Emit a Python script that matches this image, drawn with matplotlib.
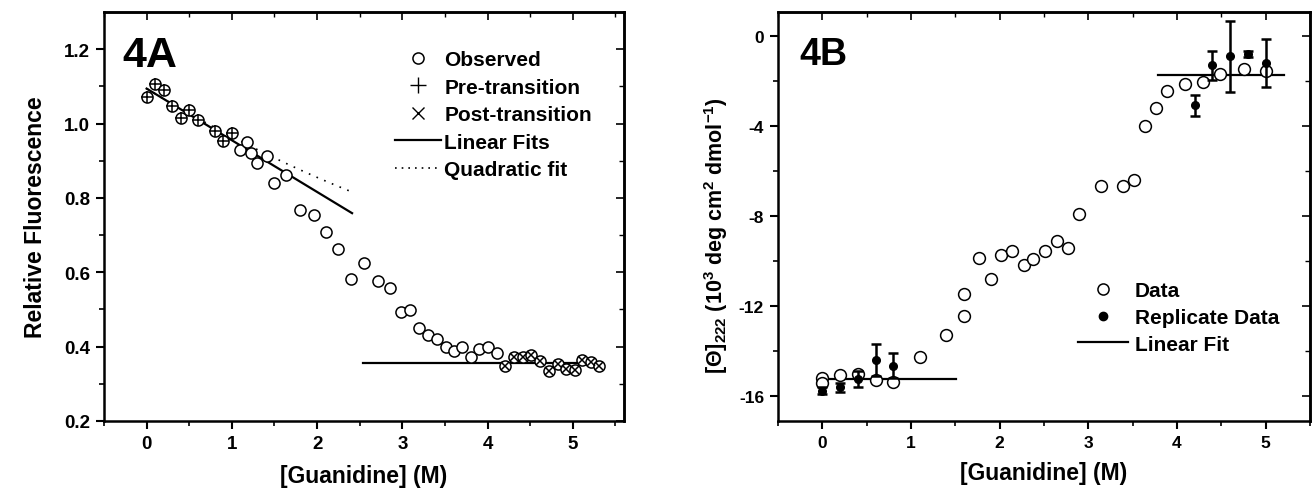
import matplotlib
matplotlib.use("Agg")
import matplotlib.pyplot as plt
import numpy as np
from matplotlib.lines import Line2D

plt.rcParams['font.family'] = ['Liberation Sans', 'DejaVu Sans']
plt.rcParams['font.weight'] = 'bold'
plt.rcParams['mathtext.fontset'] = 'custom'
plt.rcParams['mathtext.rm'] = 'Liberation Sans:bold'
plt.rcParams['mathtext.bf'] = 'Liberation Sans:bold'
plt.rcParams['mathtext.it'] = 'Liberation Sans:bold'
plt.rcParams['mathtext.default'] = 'regular'

# ---------------- Panel A data ----------------
obs_x = [0.0, 0.1, 0.2, 0.3, 0.4, 0.5, 0.6, 0.8, 0.9, 1.0,
         1.1, 1.18, 1.23, 1.3, 1.41, 1.49, 1.64, 1.8, 1.96, 2.1,
         2.24, 2.40, 2.55, 2.71, 2.86, 2.98, 3.09, 3.2, 3.3, 3.41,
         3.51, 3.6, 3.7, 3.81, 3.9, 4.0, 4.11,
         4.2, 4.31, 4.41, 4.51, 4.61, 4.72, 4.82, 4.92, 5.02, 5.11, 5.21, 5.31]
obs_y = [1.072, 1.106, 1.091, 1.048, 1.016, 1.036, 1.009, 0.980, 0.954, 0.974,
         0.928, 0.951, 0.920, 0.894, 0.913, 0.839, 0.862, 0.768, 0.755, 0.707,
         0.663, 0.582, 0.625, 0.577, 0.559, 0.492, 0.499, 0.449, 0.431, 0.420,
         0.398, 0.389, 0.398, 0.371, 0.393, 0.398, 0.383,
         0.347, 0.371, 0.371, 0.378, 0.362, 0.335, 0.353, 0.341, 0.338, 0.365, 0.359, 0.348]
n_pre = 10     # first points marked as pre-transition
n_post = 12    # last points marked as post-transition

pre_fit_x = [0.0, 2.41]
pre_fit_y = [1.094, 0.759]
post_fit_x = [2.54, 5.33]
post_fit_y = [0.356, 0.356]
quad_coef = [0.0098, -0.139, 1.094]   # quadratic fit coefficients (a, b, c)
quad_range = [0.0, 2.41]

# ---------------- Panel B data ----------------
data_x = [0.0, 0.0, 0.2, 0.4, 0.6, 0.8, 1.1, 1.4, 1.6, 1.6,
          1.77, 1.9, 2.02, 2.14, 2.27, 2.38, 2.51, 2.65, 2.77, 2.89,
          3.14, 3.39, 3.52, 3.64, 3.76, 3.89, 4.09, 4.29, 4.49, 4.75, 5.0]
data_y = [-15.2, -15.4, -15.08, -15.0, -15.26, -15.38, -14.27, -13.28, -12.45, -11.45,
          -9.87, -10.79, -9.72, -9.56, -10.16, -9.93, -9.56, -9.13, -9.42, -7.92,
          -6.67, -6.67, -6.4, -4.0, -3.21, -2.44, -2.15, -2.07, -1.70, -1.48, -1.55]
rep_x = [0.0, 0.2, 0.4, 0.6, 0.8, 4.2, 4.4, 4.6, 4.8, 5.0]
rep_y = [-15.75, -15.6, -15.23, -14.39, -14.64, -3.09, -1.32, -0.91, -0.81, -1.21]
rep_err = [0.17, 0.2, 0.37, 0.72, 0.55, 0.46, 0.63, 1.58, 0.12, 1.07]
lin_lo_x = [0.0, 1.51]
lin_lo_y = [-15.23, -15.23]
lin_hi_x = [3.79, 5.21]
lin_hi_y = [-1.75, -1.75]

W, H = 1313, 489
fig = plt.figure(figsize=(W / 100, H / 100), dpi=100)

def px_axes(l, r, t, b):
    return fig.add_axes([l / W, 1 - b / H, (r - l) / W, (b - t) / H])

axA = px_axes(104, 624, 13, 422)
axB = px_axes(778, 1310, 13, 422)

def style(ax, xmaj, xmin, ymaj, ymin, xlim, ylim, yfmt, tfs):
    ax.set_xlim(*xlim)
    ax.set_ylim(*ylim)
    ax.set_xticks(xmaj)
    ax.set_xticks(xmin, minor=True)
    ax.set_yticks(ymaj)
    ax.set_yticks(ymin, minor=True)
    ax.set_yticklabels([yfmt(v) for v in ymaj])
    for s in ax.spines.values():
        s.set_linewidth(1.8)
    ax.tick_params(which='major', direction='out', length=6, width=1.5,
                   labelsize=tfs, pad=4)
    ax.tick_params(which='minor', direction='out', length=3.5, width=1.2)
    for lab in ax.get_xticklabels() + ax.get_yticklabels():
        lab.set_fontweight('bold')
    # inward mirrored ticks on top / right
    top = ax.secondary_xaxis('top')
    top.set_xticks(xmaj)
    top.set_xticks(xmin, minor=True)
    top.tick_params(which='major', direction='in', length=6, width=1.2, labeltop=False)
    top.tick_params(which='minor', direction='in', length=3.5, width=1.0)
    right = ax.secondary_yaxis('right')
    right.set_yticks(ymaj)
    right.set_yticks(ymin, minor=True)
    right.tick_params(which='major', direction='in', length=6, width=1.2, labelright=False)
    right.tick_params(which='minor', direction='in', length=3.5, width=1.0)
    for s in list(top.spines.values()) + list(right.spines.values()):
        s.set_linewidth(1.8)

# ---------------- Panel A ----------------
axA.plot(obs_x, obs_y, linestyle='none', marker='o', ms=8, mfc='white',
         mec='black', mew=1.1, zorder=3)
axA.plot(obs_x[:n_pre], obs_y[:n_pre], linestyle='none', marker='+', ms=8,
         mec='black', mew=1.1, zorder=4)
axA.plot(obs_x[-n_post:], obs_y[-n_post:], linestyle='none', marker='x', ms=5.5,
         mec='black', mew=1.1, zorder=4)
axA.plot(pre_fit_x, pre_fit_y, color='black', lw=1.6, zorder=2)
axA.plot(post_fit_x, post_fit_y, color='black', lw=1.6, zorder=2)
qx = np.linspace(quad_range[0], quad_range[1], 100)
axA.plot(qx, np.polyval(quad_coef, qx), color='black', lw=1.2,
         linestyle=(0, (1, 4)), zorder=2)

style(axA, [0, 1, 2, 3, 4, 5], [-0.5, 0.5, 1.5, 2.5, 3.5, 4.5, 5.5],
      [0.2, 0.4, 0.6, 0.8, 1.0, 1.2], [0.3, 0.5, 0.7, 0.9, 1.1],
      (-0.5, 5.6), (0.2, 1.3), lambda v: f"{v:.1f}", 13.5)
axA.set_xlabel('[Guanidine] (M)', fontsize=16.5, fontweight='bold', labelpad=9)
axA.set_ylabel('Relative Fluorescence', fontsize=16.5, fontweight='bold', labelpad=12)
axA.text(0.035, 0.868, '4A', transform=axA.transAxes, fontsize=31,
         fontweight='bold', va='baseline', ha='left')

handlesA = [
    Line2D([], [], linestyle='none', marker='o', ms=8, mfc='white', mec='black', mew=1.1),
    Line2D([], [], linestyle='none', marker='+', ms=11, mec='black', mew=1.0),
    Line2D([], [], linestyle='none', marker='x', ms=8, mec='black', mew=1.0),
    Line2D([], [], color='black', lw=1.6),
    Line2D([], [], color='black', lw=1.2, linestyle=(0, (1, 3))),
]
labelsA = ['Observed', 'Pre-transition', 'Post-transition', 'Linear Fits', 'Quadratic fit']
axA.legend(handlesA, labelsA, loc='upper left', bbox_to_anchor=(0.56, 0.907),
           frameon=False, handlelength=2.2, handletextpad=0.15, labelspacing=0.41,
           borderaxespad=0, borderpad=0,
           prop={'weight': 'bold', 'size': 15, 'family': 'Liberation Sans'})

# ---------------- Panel B ----------------
axB.plot(data_x, data_y, linestyle='none', marker='o', ms=8.5, mfc='white',
         mec='black', mew=1.1, zorder=3)
axB.errorbar(rep_x, rep_y, yerr=rep_err, fmt='o', ms=5.5, mfc='black', mec='black',
             ecolor='black', elinewidth=1.8, capsize=3.5, capthick=1.8, zorder=4)
axB.plot(lin_lo_x, lin_lo_y, color='black', lw=1.6, zorder=2)
axB.plot(lin_hi_x, lin_hi_y, color='black', lw=1.6, zorder=2)

style(axB, [0, 1, 2, 3, 4, 5], [-0.5, 0.5, 1.5, 2.5, 3.5, 4.5, 5.5],
      [-16, -12, -8, -4, 0], [-14, -10, -6, -2],
      (-0.5, 5.5), (-17.1, 1.05), lambda v: f"{v:d}", 12.5)
axB.set_xlabel('[Guanidine] (M)', fontsize=16.5, fontweight='bold', labelpad=8)
axB.set_ylabel(r'[$\Theta$]$_{222}$ (10$^{3}$ deg cm$^{2}$ dmol$^{-1}$)',
               fontsize=15.5, fontweight='bold')
axB.yaxis.set_label_coords(-0.09, 0.455)
axB.text(0.041, 0.873, '4B', transform=axB.transAxes, fontsize=27,
         fontweight='bold', va='baseline', ha='left')

handlesB = [
    Line2D([], [], linestyle='none', marker='o', ms=8, mfc='white', mec='black', mew=1.1),
    Line2D([], [], linestyle='none', marker='o', ms=6, mfc='black', mec='black'),
    Line2D([], [], color='black', lw=1.6),
]
labelsB = ['Data', 'Replicate Data', 'Linear Fit']
axB.legend(handlesB, labelsB, loc='upper left', bbox_to_anchor=(0.564, 0.342),
           frameon=False, handlelength=2.4, handletextpad=0.33, labelspacing=0.37,
           borderaxespad=0, borderpad=0,
           prop={'weight': 'bold', 'size': 15, 'family': 'Liberation Sans'})

fig.savefig('out.png', dpi=100)
